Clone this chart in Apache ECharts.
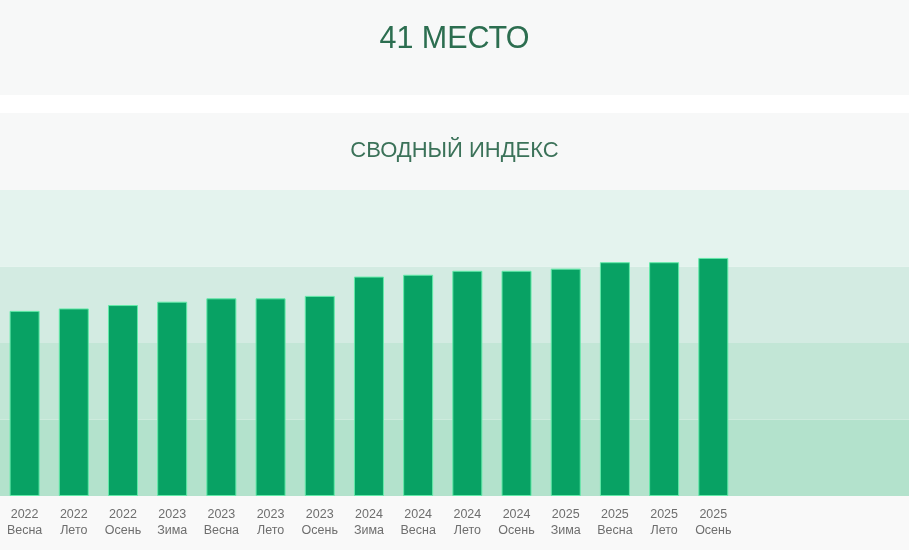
<!DOCTYPE html>
<html><head><meta charset="utf-8">
<script src="https://cdn.jsdelivr.net/npm/echarts@6/dist/echarts.min.js"></script>
<style>html,body{margin:0;padding:0;background:#fff}#c{width:909px;height:550px}</style>
</head><body><div id="c"></div>
<script>
const years = ['2022','2022','2022','2023','2023','2023','2023','2024','2024','2024','2024','2025','2025','2025','2025'];
const seasons = ['Весна','Лето','Осень','Зима','Весна','Лето','Осень','Зима','Весна','Лето','Осень','Зима','Весна','Лето','Осень'];
const values = [60.5,61.3,62.4,63.5,64.6,64.6,65.4,71.7,72.3,73.6,73.6,74.3,76.4,76.4,77.8];
const titleText = '41 МЕСТО';
const subtitleText = 'СВОДНЫЙ ИНДЕКС';
const categories = years.map((y,i)=>y+'\n'+seasons[i]);

const chart = echarts.init(document.getElementById('c'));
chart.setOption({
  backgroundColor:'#ffffff',
  animation:false,
  graphic:[
    {type:'rect',shape:{x:0,y:0,width:909,height:95},style:{fill:'#f7f8f8'},z:-10},
    {type:'rect',shape:{x:0,y:113,width:909,height:77},style:{fill:'#f7f8f8'},z:-10},
    {type:'rect',shape:{x:0,y:496,width:909,height:54},style:{fill:'#f9f9f9'},z:-10}
  ],
  title:[
    {text:titleText,left:'center',top:19,textStyle:{fontFamily:'Liberation Sans, Arial',fontSize:30.5,fontWeight:'normal',color:'#2c6e50'}},
    {text:subtitleText,left:'center',top:135,textStyle:{fontFamily:'Liberation Sans, Arial',fontSize:22,fontWeight:'normal',color:'#3b7259'}}
  ],
  grid:[
    {left:0,right:0,top:190,bottom:54},
    {left:-2.5,width:740.4,top:190,bottom:54}
  ],
  xAxis:[
    {gridIndex:0,type:'value',show:false,min:0,max:1},
    {gridIndex:1,type:'category',data:categories,
     axisLine:{show:false},axisTick:{show:false},
     axisLabel:{margin:11,fontSize:12.5,lineHeight:16,color:'#6e6e6e',fontFamily:'Liberation Sans, Arial'}}
  ],
  yAxis:[
    {gridIndex:0,type:'value',min:0,max:100,interval:25,axisLine:{show:false},axisTick:{show:false},axisLabel:{show:false},
     splitLine:{show:false},splitArea:{show:true,areaStyle:{color:['#b3e2cc','#c2e6d6','#d3ebe2','#e4f3ee']}}},
    {gridIndex:1,type:'value',min:0,max:100,interval:25,show:false,splitLine:{show:false}}
  ],
  series:[{
    type:'bar',xAxisIndex:1,yAxisIndex:1,data:values,barWidth:30,
    itemStyle:{color:'#08a264',borderColor:'#63eaa9',borderWidth:1}
  }]
});
</script></body></html>
